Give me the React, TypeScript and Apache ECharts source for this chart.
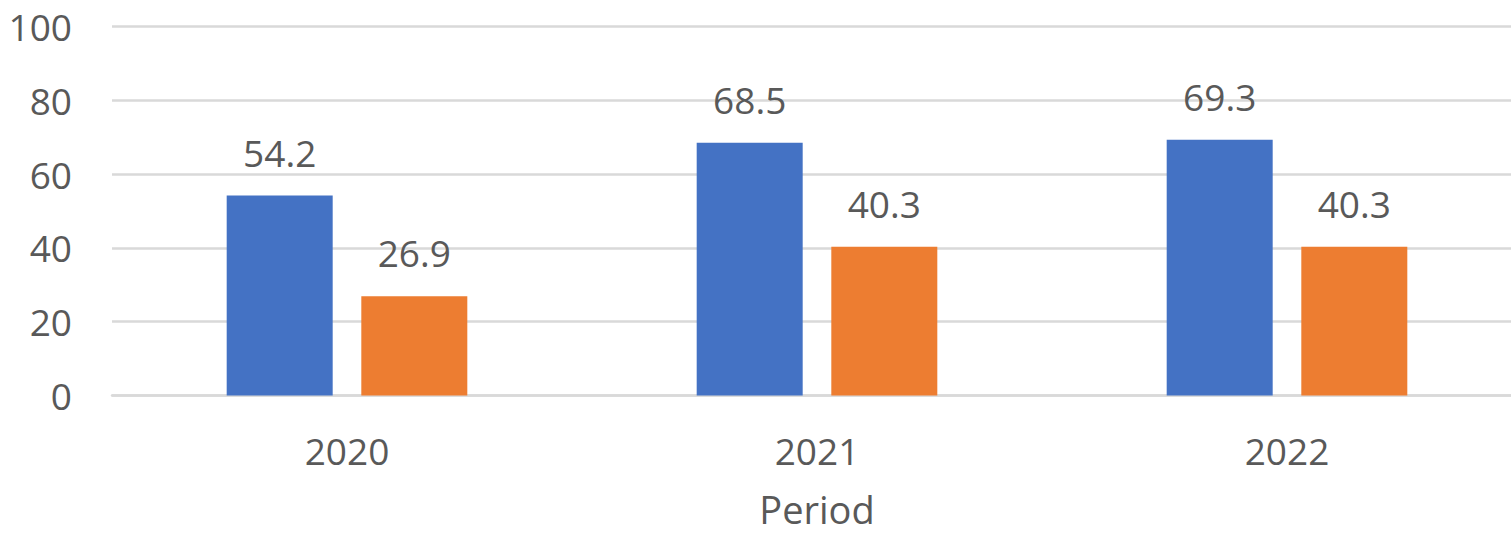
import React, { useEffect, useRef } from "react";
import * as echarts from "echarts";

const categories = ["2020", "2021", "2022"];
const seriesA = [54.2, 68.5, 69.3];
const seriesB = [26.9, 40.3, 40.3];
const yTicks = { min: 0, max: 100, interval: 20 };

const FONT = "'Open Sans', sans-serif";
const TEXT = "#595959";

export default function App() {
  const ref = useRef<HTMLDivElement>(null);
  useEffect(() => {
    if (!ref.current) return;
    const chart = echarts.init(ref.current, null, { renderer: "svg" });
    const label = {
      show: true,
      position: "top",
      distance: 25,
      color: TEXT,
      fontFamily: FONT,
      fontSize: 37,
      formatter: (p: any) => p.value.toFixed(1),
    };
    chart.setOption({
      animation: false,
      backgroundColor: "#ffffff",
      grid: { left: 112, top: 26.5, width: 1410, height: 369, containLabel: false },
      xAxis: {
        type: "category",
        data: categories,
        boundaryGap: true,
        axisLine: { show: true, lineStyle: { color: "#d9d9d9", width: 2.5 } },
        axisTick: { show: false },
        axisLabel: { color: TEXT, fontFamily: FONT, fontSize: 37, margin: 36 },
        name: "Period",
        nameLocation: "middle",
        nameGap: 96,
        nameTextStyle: { color: TEXT, fontFamily: FONT, fontSize: 38, lineHeight: 34 },
      },
      yAxis: {
        type: "value",
        min: yTicks.min,
        max: yTicks.max,
        interval: yTicks.interval,
        axisLine: { show: false },
        axisTick: { show: false },
        axisLabel: { color: TEXT, fontFamily: FONT, fontSize: 37, margin: 40 },
        splitLine: { show: true, lineStyle: { color: "#d9d9d9", width: 2.5 } },
      },
      series: [
        {
          type: "bar",
          data: seriesA,
          barWidth: 106,
          barGap: "27%",
          itemStyle: { color: "#4472C4" },
          label,
        },
        {
          type: "bar",
          data: seriesB,
          barWidth: 106,
          itemStyle: { color: "#ED7D31" },
          label,
        },
      ],
    });
    return () => chart.dispose();
  }, []);
  return (
    <div
      style={{
        position: "absolute",
        left: 0,
        top: 0,
        width: 1511,
        height: 534,
        overflow: "hidden",
        background: "#ffffff",
      }}
    >
      <div ref={ref} style={{ width: 1530, height: 534 }} />
    </div>
  );
}
